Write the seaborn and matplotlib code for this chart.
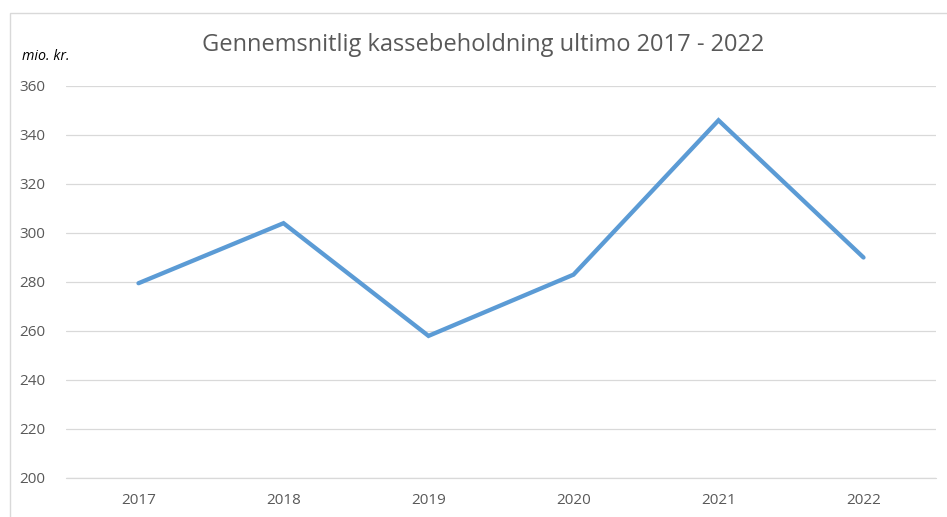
import matplotlib
matplotlib.use("Agg")
import matplotlib.pyplot as plt
import seaborn as sns
import pandas as pd
from matplotlib.patches import Rectangle

# data
years = ["2017", "2018", "2019", "2020", "2021", "2022"]
cash = [279.5, 304, 258, 283, 346, 290]
y_ticks = [200, 220, 240, 260, 280, 300, 320, 340, 360]

title = "Gennemsnitlig kassebeholdning ultimo 2017 - 2022"
unit_label = "mio. kr."

sns.set_style("white")
plt.rcParams["font.family"] = ["Open Sans", "DejaVu Sans"]

text_grey = "#595959"
grid_grey = "#D9D9D9"
line_blue = "#5B9BD5"

df = pd.DataFrame({"year": years, "cash": cash})

fig = plt.figure(figsize=(9.47, 5.17), dpi=100)
ax = fig.add_axes([66 / 947, 1 - 478 / 517, (936 - 66) / 947, (478 - 86) / 517])

sns.lineplot(data=df, x="year", y="cash", sort=False, color=line_blue,
             linewidth=3.1, ax=ax, solid_capstyle="round", solid_joinstyle="miter")

ax.set_xlim(-0.5, len(years) - 0.5)
ax.set_ylim(y_ticks[0], y_ticks[-1])
ax.set_yticks(y_ticks)
ax.yaxis.grid(True, color=grid_grey, linewidth=0.9)
# category axis line at the bottom, same colour as the grid
ax.axhline(y_ticks[0], color=grid_grey, linewidth=0.9, clip_on=False, zorder=0)
ax.set_axisbelow(True)
for side in ["top", "right", "left", "bottom"]:
    ax.spines[side].set_visible(False)
ax.tick_params(axis="both", length=0, labelsize=11, labelcolor=text_grey)
ax.tick_params(axis="y", pad=15)
ax.tick_params(axis="x", pad=11)
ax.set_xlabel("")
ax.set_ylabel("")

fig.text(483 / 947, 1 - 45 / 517, title, ha="center", va="center",
         fontsize=17, color=text_grey)
fig.text(22 / 947, 1 - 57 / 517, unit_label, ha="left", va="center",
         fontsize=10.3, style="italic", color="black")

# light chart frame, cut at the bottom and right like the screenshot
fig.patches.append(Rectangle((10 / 947, -0.05), 1.0, 1 - 13 / 517 + 0.05,
                             transform=fig.transFigure, fill=False,
                             edgecolor=grid_grey, linewidth=1))

fig.savefig("out.png", dpi=100)
